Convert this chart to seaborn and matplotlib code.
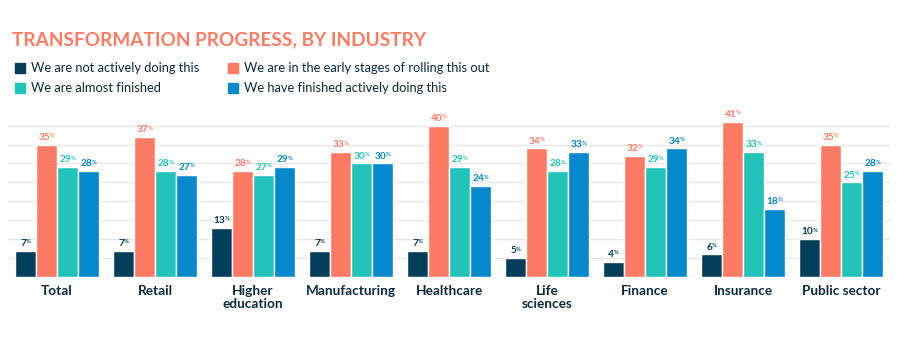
import matplotlib
matplotlib.use("Agg")
import matplotlib.pyplot as plt
import seaborn as sns
import pandas as pd
from matplotlib.patches import Rectangle

industries = ["Total", "Retail", "Higher\neducation", "Manufacturing", "Healthcare",
              "Life\nsciences", "Finance", "Insurance", "Public sector"]
statuses = ["We are not actively doing this",
            "We are in the early stages of rolling this out",
            "We are almost finished",
            "We have finished actively doing this"]
not_doing = [7, 7, 13, 7, 7, 5, 4, 6, 10]
early = [35, 37, 28, 33, 40, 34, 32, 41, 35]
almost = [29, 28, 27, 30, 29, 28, 29, 33, 25]
finished = [28, 27, 29, 30, 24, 33, 34, 18, 28]
series = [not_doing, early, almost, finished]
colors = ["#033E5B", "#FF7A63", "#22C4BA", "#0489CC"]

rows = []
for s, vals in zip(statuses, series):
    for ind, v in zip(industries, vals):
        rows.append({"industry": ind, "status": s, "value": v})
df = pd.DataFrame(rows)

sns.set_style("white")
plt.rcParams["font.family"] = ["Lato", "DejaVu Sans"]

fig = plt.figure(figsize=(9.05, 3.5), dpi=100)
W, H = 905, 350
ax = fig.add_axes([8 / W, 1 - 277 / H, (890 - 8) / W, (277 - 118) / H])

sns.barplot(data=df, x="industry", y="value", hue="status", hue_order=statuses,
            order=industries, palette=colors, width=0.86, edgecolor="white",
            linewidth=1.0, saturation=1, legend=False, ax=ax)

ax.set_ylim(0, 42)
ax.set_xlim(-0.5, len(industries) - 0.5)
ax.set_yticks(range(0, 45, 5))
ax.yaxis.grid(True, color="#E8E8E8", linewidth=1)
ax.set_axisbelow(True)
ax.set_yticklabels([])
ax.tick_params(axis="y", length=0)
ax.tick_params(axis="x", length=0, pad=5.5)
ax.set_xlabel("")
ax.set_ylabel("")
for sp in ax.spines.values():
    sp.set_visible(False)
for lbl in ax.get_xticklabels():
    lbl.set_fontsize(9.8)
    lbl.set_fontweight("bold")
    lbl.set_color("#0B2A3E")
    lbl.set_linespacing(1.1)
    lbl.set_verticalalignment("top")

for cont, vals, col in zip(ax.containers, series, colors):
    for bar, v in zip(cont, vals):
        x = bar.get_x() + bar.get_width() / 2
        t = ax.annotate(f"{v}", xy=(x, bar.get_height()), xytext=(-1.5, 2),
                        textcoords="offset points", ha="center", va="bottom",
                        fontsize=7.3, fontweight="bold", color=col)
        ax.annotate("%", xy=(1, 1), xycoords=t, xytext=(-0.6, -0.3),
                    textcoords="offset points", ha="left", va="top",
                    fontsize=4.3, fontweight="bold", color=col)

fig.text(12 / W, 1 - 40 / H, "TRANSFORMATION PROGRESS, BY INDUSTRY",
         fontsize=13.7, fontweight="bold", color="#FF7A63", va="center", ha="left")

leg_pos = [(15, 68), (228, 68), (15, 88), (228, 88)]
leg_order = [0, 1, 2, 3]
for (lx, ly), i in zip(leg_pos, leg_order):
    fig.patches.append(Rectangle(((lx) / W, 1 - (ly + 5) / H), 10 / W, 10 / H,
                                 transform=fig.transFigure, color=colors[i]))
    fig.text((lx + 16) / W, 1 - (ly + 0.5) / H, statuses[i], fontsize=9.25,
             color="#0B2A3E", va="center", ha="left")

fig.savefig("out.png", dpi=100)
